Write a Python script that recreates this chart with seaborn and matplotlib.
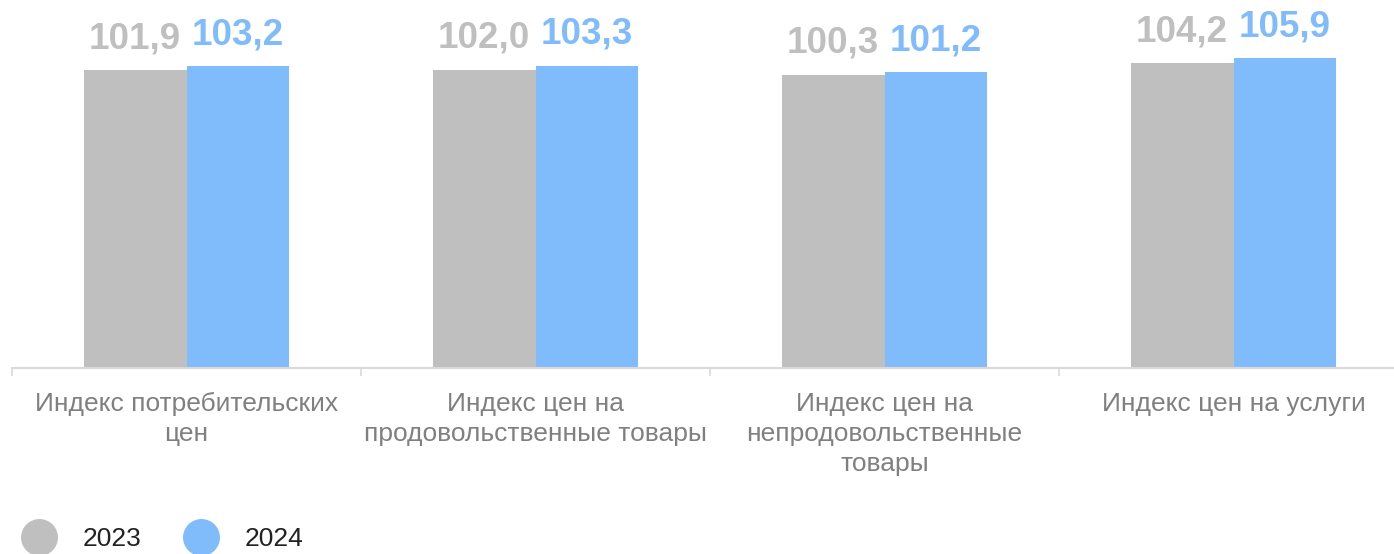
import pandas as pd
import seaborn as sns
import matplotlib.pyplot as plt
from matplotlib.lines import Line2D

# data
categories = ['cpi', 'food', 'nonfood', 'services']
tick_labels = ['Индекс потребительских\nцен',
               'Индекс цен на\nпродовольственные товары',
               'Индекс цен на\nнепродовольственные\nтовары',
               'Индекс цен на услуги']
years = ['2023', '2024']
values_2023 = [101.9, 102.0, 100.3, 104.2]
values_2024 = [103.2, 103.3, 101.2, 105.9]

colors = {'2023': '#bfbfbf', '2024': '#80bbfb'}

df = pd.DataFrame({
    'Category': categories * 2,
    'Year': [years[0]] * len(categories) + [years[1]] * len(categories),
    'Value': values_2023 + values_2024,
})

sns.set_style('white')
plt.rcParams['font.family'] = ['Liberation Sans', 'DejaVu Sans']

fig = plt.figure(figsize=(13.94, 5.54), dpi=100)
W, H = 1394, 554
ax = fig.add_axes([12 / W, (H - 368) / H, 1396 / W, 368 / H])

sns.barplot(data=df, x='Category', y='Value', hue='Year', order=categories,
            hue_order=years, palette=colors, width=0.59, saturation=1,
            linewidth=0, legend=False, ax=ax)

ax.set_xlim(-0.5, len(categories) - 0.5)
ax.set_ylim(0, 125.8)

# value labels with comma decimal separator
for container, year in zip(ax.containers, years):
    vals = df[df['Year'] == year]['Value']
    ax.bar_label(container, labels=[f'{v:.1f}'.replace('.', ',') for v in vals],
                 padding=10, color=colors[year], fontsize=26.5, fontweight='bold')

# axis styling
for side in ['left', 'top', 'right']:
    ax.spines[side].set_visible(False)
ax.spines['bottom'].set_color('#d9d9d9')
ax.spines['bottom'].set_linewidth(1.5)
ax.set_yticks([])
ax.set_xticks(range(len(categories)))
ax.set_xticklabels(tick_labels, fontsize=19, color='#808080', linespacing=1.32)
ax.set_xticks([i - 0.5 for i in range(len(categories) + 1)], minor=True)
ax.tick_params(axis='x', which='major', length=0, pad=17)
ax.tick_params(axis='x', which='minor', length=5.8, width=1.2, color='#d9d9d9',
               direction='out', bottom=True)
ax.set_xlabel('')
ax.set_ylabel('')

# legend with round markers
handles = [Line2D([], [], marker='o', linestyle='', markersize=26.6,
                  markerfacecolor=colors[y], markeredgecolor='none') for y in years]
fig.legend(handles, years, loc='center left', bbox_to_anchor=(21 / W, 1 - 539 / H),
           ncol=2, frameon=False, fontsize=19, handlelength=1.4, handletextpad=0.95,
           columnspacing=1.55, borderpad=0, borderaxespad=0, labelcolor='#222222')

fig.savefig('out.png', dpi=100)
